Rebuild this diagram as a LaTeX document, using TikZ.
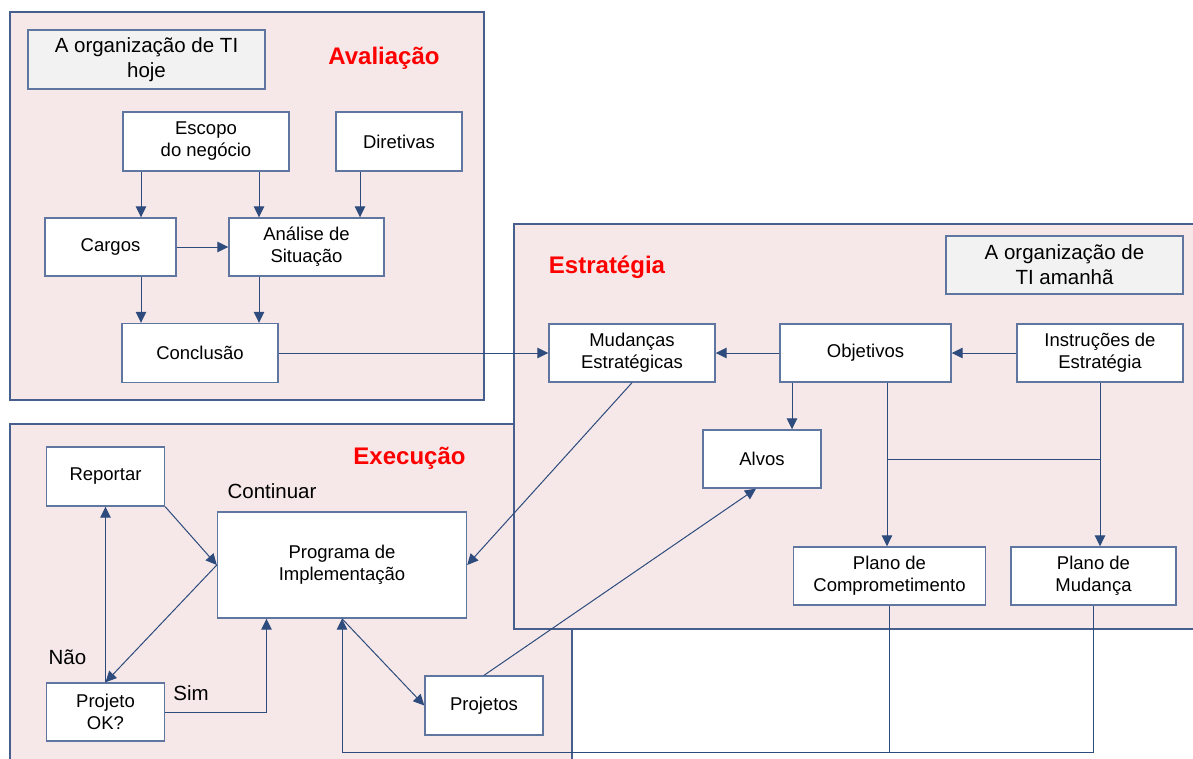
\documentclass[tikz,border=0pt]{standalone}
\usepackage{fontspec}
\setmainfont{Liberation Sans}
\usetikzlibrary{arrows.meta}
\definecolor{panelfill}{RGB}{246,232,232}
\definecolor{panelline}{RGB}{70,95,140}
\definecolor{boxline}{RGB}{95,118,160}
\definecolor{wireblue}{RGB}{45,75,125}
\definecolor{titlefill}{RGB}{242,242,242}

\begin{document}
\begin{tikzpicture}[x=1pt,y=-1pt,
  panel/.style={draw=panelline, line width=1.2pt, fill=panelfill},
  box/.style={draw=boxline, line width=1.4pt, fill=white, align=center,
    inner sep=0pt, font=\fontsize{18.5}{22}\selectfont},
  titlebox/.style={box, fill=titlefill, font=\fontsize{20.5}{25}\selectfont},
  wh/.style 2 args={minimum width=#1pt, minimum height=#2pt},
  phase/.style={text=red, font=\fontsize{24}{28}\selectfont\bfseries},
  note/.style={font=\fontsize{20.5}{24}\selectfont},
  wire/.style={draw=wireblue, line width=1pt},
  arr/.style={wire, -{Triangle[length=11pt,width=10.5pt]}},
]
\fill[white] (0,0) rectangle (1193,758);
\clip (0,0) rectangle (1193,758);

% phase panels (Estratégia lies over Execução)
\draw[panel] (10,12) rectangle (484,400);
\draw[panel] (10,424) rectangle (572,775);
\draw[panel] (514,224) rectangle (1205,629);

% ---- Avaliação ----
\node[titlebox, wh={237}{59}] (hoje) at (146.5,59.5) {A organização de TI\\hoje};
\node[phase] (lblaval) at (384,58) {Avaliação};
\node[box, wh={166}{59}] (escopo) at (206,141.5) {Escopo\\do negócio};
\node[box, wh={126}{59}] (diretivas) at (399,141.5) {Diretivas};
\node[box, wh={131}{58}] (cargos) at (110.5,247) {Cargos};
\node[box, wh={155}{58}] (analise) at (306.5,247) {Análise de\\Situação};
\node[box, wh={156}{59}] (conclusao) at (200,353) {Conclusão};

% ---- Estratégia ----
\node[phase] (lblestr) at (607,267) {Estratégia};
\node[titlebox, wh={237}{58}] (amanha) at (1064.5,265) {A organização de\\TI amanhã};
\node[box, wh={166}{58}] (mudancas) at (632,353) {Mudanças\\Estratégicas};
\node[box, wh={171}{58}] (objetivos) at (865.5,353) {Objetivos};
\node[box, wh={166}{58}] (instrucoes) at (1100,353) {Instruções de\\Estratégia};
\node[box, wh={118}{58}] (alvos) at (762,459) {Alvos};
\node[box, wh={192}{58}] (compromisso) at (889.5,576) {Plano de\\Comprometimento};
\node[box, wh={165}{58}] (mudanca) at (1093.5,576) {Plano de\\Mudança};

% ---- Execução ----
\node[phase] (lblexec) at (409.5,458) {Execução};
\node[box, wh={118}{59}] (reportar) at (105.5,476.5) {Reportar};
\node[note] (lblcont) at (272,491) {Continuar};
\node[box, wh={249}{106}] (programa) at (342,565) {Programa de\\Implementação};
\node[note] (lblnao) at (67.5,657) {Não};
\node[box, wh={118}{58}] (projetook) at (105.5,712) {Projeto\\OK?};
\node[note] (lblsim) at (191,693) {Sim};
\node[box, wh={118}{59}] (projetos) at (484,705.5) {Projetos};

% column and row guides for the orthogonal connectors
\coordinate (colA) at (141,0);
\coordinate (colB) at (259,0);
\coordinate (colC) at (360,0);
\coordinate (colD) at (792,0);
\coordinate (colE) at (887,0);
\coordinate (colF) at (266.5,0);
\coordinate (joinrow) at (0,459);
\coordinate (loop) at (0,752);

% Avaliação connectors
\draw[arr] (escopo.south -| colA) -- (cargos.north -| colA);
\draw[arr] (escopo.south -| colB) -- (analise.north -| colB);
\draw[arr] (diretivas.south -| colC) -- (analise.north -| colC);
\draw[arr] (cargos.east) -- (analise.west);
\draw[arr] (cargos.south -| colA) -- (conclusao.north -| colA);
\draw[arr] (analise.south -| colB) -- (conclusao.north -| colB);
\draw[arr] (conclusao.east) -- (mudancas.west);

% Estratégia connectors
\draw[arr] (objetivos.west) -- (mudancas.east);
\draw[arr] (instrucoes.west) -- (objetivos.east);
\draw[arr] (objetivos.south -| colD) -- (alvos.north -| colD);
\draw[arr] (objetivos.south -| colE) -- (compromisso.north -| colE);
\draw[arr] (instrucoes.south) -- (instrucoes.south |- mudanca.north);
\draw[wire] (joinrow -| colE) -- (joinrow -| instrucoes.south);
\draw[arr] (mudancas.south) -- (programa.east);
\draw[arr] (projetos.north) -- ([xshift=-6pt]alvos.south);
\draw[arr] (compromisso.south) -- (compromisso.south |- loop)
  -- (programa.south |- loop) -- (programa.south);
\draw[wire] (mudanca.south) -- (mudanca.south |- loop) -- (compromisso.south |- loop);

% Execução connectors
\draw[arr] (reportar.south east) -- (programa.west);
\draw[arr] (programa.west) -- (projetook.north);
\draw[arr] (projetook.north) -- (reportar.south);
\draw[arr] (projetook.east) -- (projetook.east -| colF) -- (programa.south -| colF);
\draw[arr] (programa.south) -- (projetos.west);
\end{tikzpicture}
\end{document}
